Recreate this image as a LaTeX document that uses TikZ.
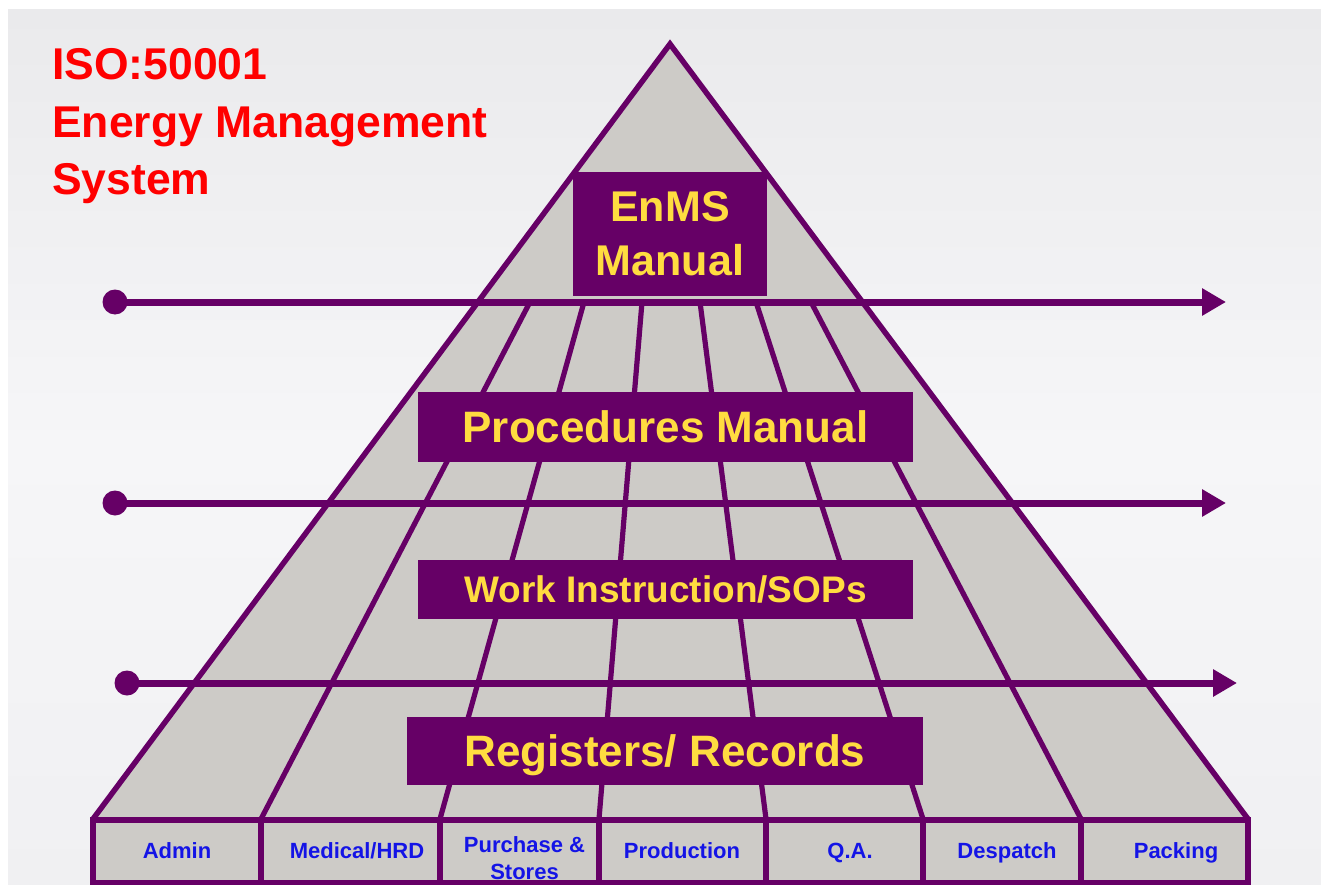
\documentclass[tikz,border=0pt]{standalone}
\usepackage{fontspec}
\setmainfont{Liberation Sans}
\usetikzlibrary{arrows.meta}
\definecolor{pur}{RGB}{102,0,102}
\definecolor{pgray}{RGB}{205,203,199}
\definecolor{ylw}{RGB}{255,220,64}
\definecolor{lblue}{RGB}{20,20,230}
\definecolor{bgtop}{RGB}{234,234,236}
\definecolor{bgmid}{RGB}{246,246,248}
\definecolor{bgbot}{RGB}{240,240,242}
\definecolor{ttl}{RGB}{255,0,0}
\begin{document}
\begin{tikzpicture}[x=1pt,y=-1pt,
  edge/.style={draw=pur,line width=5.5pt,line join=miter},
  gridline/.style={draw=pur,line width=5.2pt},
  arrowline/.style={draw=pur,line width=7pt,-{Triangle[length=24pt,width=26pt]}},
  dot/.style={circle,fill=pur,inner sep=0pt,minimum size=25pt},
  band/.style={rectangle,fill=pur,inner sep=0pt,text=ylw},
  cell/.style={rectangle,draw=pur,fill=pgray,line width=5.5pt,inner sep=0pt,minimum height=63pt},
  lab/.style={text=lblue,font=\bfseries\fontsize{22}{27}\selectfont,inner sep=0pt,text height=15.8pt,text depth=0pt},
  title/.style={text=ttl,font=\bfseries\fontsize{44.5}{57.5}\selectfont,inner sep=0pt,anchor=base west}]
\useasboundingbox (0,0) rectangle (1321,885);
\fill[white] (0,0) rectangle (1321,885);
\shade[top color=bgtop,bottom color=bgbot,middle color=bgmid] (8,10) rectangle (1321,885);
% title
\node[title] (t1) at (52,80) {ISO:50001};
\node[title] (t2) at (52,138) {Energy Management};
\node[title] (t3) at (52,195) {System};
% pyramid
\coordinate (apex) at (670,44);
\coordinate (bl) at (93,819);
\coordinate (br) at (1248,819);
\fill[pgray] (apex) -- (bl) -- (br) -- cycle;
% radial grid lines
\coordinate (g1t) at (530,302); \coordinate (g1b) at (261,819);
\coordinate (g2t) at (584,302); \coordinate (g2b) at (440,819);
\coordinate (g3t) at (642,302); \coordinate (g3b) at (599,819);
\coordinate (g4t) at (700,302); \coordinate (g4b) at (766,819);
\coordinate (g5t) at (756,302); \coordinate (g5b) at (923,819);
\coordinate (g6t) at (811,302); \coordinate (g6b) at (1081,819);
\foreach \i in {1,...,6} {\draw[gridline] (g\i t) -- (g\i b);}
\draw[edge] (bl) -- (apex) -- (br);
% arrows
\node[dot] (d1) at (115,302) {};
\coordinate (e1) at (1226,302);
\draw[arrowline] (d1.center) -- (e1);
\node[dot] (d2) at (115,503) {};
\coordinate (e2) at (1226,503);
\draw[arrowline] (d2.center) -- (e2);
\node[dot] (d3) at (127,683) {};
\coordinate (e3) at (1237,683);
\draw[arrowline] (d3.center) -- (e3);
% bands
\node[band,minimum width=194pt,minimum height=124pt,align=center,font=\bfseries\fontsize{43}{54}\selectfont] (enms) at (670,234) {EnMS\\Manual};
\node[band,minimum width=495pt,minimum height=70pt,font=\bfseries\fontsize{44}{50}\selectfont,text height=31.5pt,text depth=0pt] (proc) at (665.5,427) {Procedures Manual};
\node[band,minimum width=495pt,minimum height=59pt,font=\bfseries\fontsize{37}{44}\selectfont,text height=26.5pt,text depth=0pt] (work) at (665.5,589.5) {Work Instruction/SOPs};
\node[band,minimum width=516pt,minimum height=68pt,font=\bfseries\fontsize{44}{50}\selectfont,text height=31.5pt,text depth=0pt] (reg) at (665,751) {Registers/ Records};
% bottom cells
\node[cell,minimum width=168pt] (c1) at (177,851.5) {};
\node[cell,minimum width=179pt] (c2) at (350.5,851.5) {};
\node[cell,minimum width=159pt] (c3) at (519.5,851.5) {};
\node[cell,minimum width=167pt] (c4) at (682.5,851.5) {};
\node[cell,minimum width=157pt] (c5) at (844.5,851.5) {};
\node[cell,minimum width=158pt] (c6) at (1002,851.5) {};
\node[cell,minimum width=167pt] (c7) at (1164.5,851.5) {};
\node[lab] (l1) at (177,851) {Admin};
\node[lab] (l2) at (357,851) {Medical/HRD};
\node[text=lblue,font=\bfseries\fontsize{22}{27}\selectfont,inner sep=0pt,align=center] (l3) at (524.5,858) {Purchase \&\\Stores};
\node[lab] (l4) at (682,851) {Production};
\node[lab] (l5) at (850,851) {Q.A.};
\node[lab] (l6) at (1007,851) {Despatch};
\node[lab] (l7) at (1176,851) {Packing};
\end{tikzpicture}
\end{document}
